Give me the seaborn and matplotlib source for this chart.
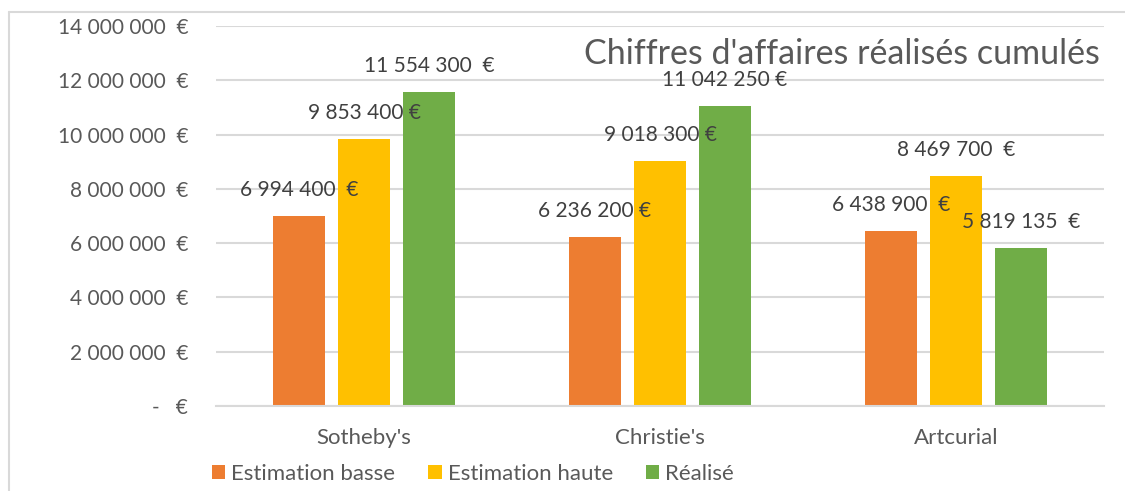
import matplotlib
matplotlib.use("Agg")
import matplotlib.pyplot as plt
import seaborn as sns
import pandas as pd
from matplotlib.lines import Line2D
from matplotlib.patches import Patch

categories = ["Sotheby's", "Christie's", "Artcurial"]
series = ["Estimation basse", "Estimation haute", "Réalisé"]
est_basse = [6994400, 6236200, 6438900]
est_haute = [9853400, 9018300, 8469700]
realise = [11554300, 11042250, 5819135]
labels_basse = ["6 994 400  €", "6 236 200 €", "6 438 900  €"]
labels_haute = ["9 853 400 €", "9 018 300 €", "8 469 700  €"]
labels_realise = ["11 554 300  €", "11 042 250 €", "5 819 135  €"]
yticks = [0, 2000000, 4000000, 6000000, 8000000, 10000000, 12000000, 14000000]
title = "Chiffres d'affaires réalisés cumulés"
colors = ["#ED7D31", "#FFC000", "#70AD47"]

sns.set_theme(style="white")
plt.rcParams["font.family"] = ["Lato", "DejaVu Sans"]
TXT = "#595959"

rows = []
for s, vals in zip(series, [est_basse, est_haute, realise]):
    for c, v in zip(categories, vals):
        rows.append({"cat": c, "serie": s, "val": v})
df = pd.DataFrame(rows)

fig = plt.figure(figsize=(11.25, 4.91), dpi=100)
ax = fig.add_axes([216/1125, 1-406/491, (1104-216)/1125, (406-26)/491])

sns.barplot(data=df, x="cat", y="val", hue="serie", order=categories,
            hue_order=series, palette=colors, width=0.659, gap=0.2,
            saturation=1, ax=ax, legend=False, edgecolor="none")

ax.set_ylim(0, 14000000)
ax.set_xlim(-0.5, 2.5)
ax.set_yticks(yticks)

def fmt(v):
    if v == 0:
        return "-   €"
    return f"{int(v):,}".replace(",", " ") + "  €"

ax.set_yticklabels([fmt(v) for v in yticks])
ax.yaxis.grid(True, color="#d9d9d9", linewidth=1.5)
ax.set_axisbelow(True)
for sp in ["top", "right", "left"]:
    ax.spines[sp].set_visible(False)
ax.spines["bottom"].set_color("#d9d9d9")
ax.spines["bottom"].set_linewidth(1.5)
ax.tick_params(axis="y", length=0, pad=20, labelsize=15, labelcolor=TXT)
ax.tick_params(axis="x", length=0, pad=16, labelsize=16, labelcolor=TXT)
ax.set_xlabel("")
ax.set_ylabel("")

all_labels = [labels_basse, labels_haute, labels_realise]
for cont, labs in zip(ax.containers, all_labels):
    for bar, lab in zip(cont, labs):
        ax.annotate(lab, (bar.get_x() + bar.get_width()/2, bar.get_height()),
                    xytext=(0, 26), textcoords="offset pixels",
                    ha="center", va="center", fontsize=15, color="#404040")

fig.text(1100/1125, 1-54/491, title, ha="right", va="center",
         fontsize=24.5, color=TXT)

handles = [Patch(facecolor=c, edgecolor="none", label=s) for c, s in zip(colors, series)]
fig.legend(handles=handles, loc="center", bbox_to_anchor=(473/1125, 1-474/491),
           ncol=3, frameon=False, fontsize=16, labelcolor=TXT,
           handlelength=0.59, handleheight=0.59, handletextpad=0.27, columnspacing=1.5)

fig.add_artist(Line2D([9/1125, 1], [1-12/491, 1-12/491], color="#d9d9d9", linewidth=1.5,
                      transform=fig.transFigure))
fig.add_artist(Line2D([9/1125, 9/1125], [0, 1-12/491], color="#d9d9d9", linewidth=1.5,
                      transform=fig.transFigure))

fig.savefig("out.png", dpi=100)
